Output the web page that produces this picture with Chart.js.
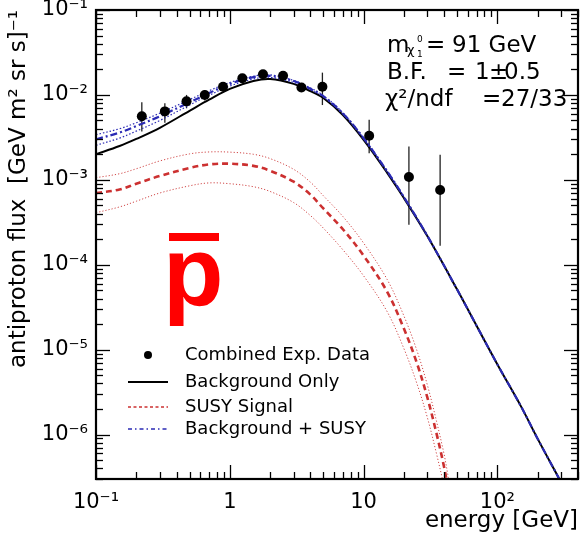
<!DOCTYPE html>
<html><head><meta charset="utf-8">
<script src="https://cdn.jsdelivr.net/npm/chart.js@4.4.1/dist/chart.umd.min.js"></script>
<style>html,body{margin:0;padding:0;background:#fff}#wrap{width:583px;height:535px;position:relative}</style>
</head><body><div id="wrap"><canvas id="c" width="583" height="535"></canvas></div>
<script>
// ---- data ----
const dataE    = [0.22, 0.327, 0.475, 0.65, 0.89, 1.24, 1.77, 2.5, 3.43, 4.92, 11.0, 21.8, 37.3];
const dataFlux = [5.6e-3, 6.4e-3, 8.4e-3, 1.0e-2, 1.25e-2, 1.57e-2, 1.75e-2, 1.68e-2, 1.22e-2, 1.25e-2, 3.3e-3, 1.08e-3, 7.6e-4];
const dataHi   = [8.2e-3, 8.0e-3, 1.0e-2, 1.14e-2, 1.32e-2, 1.64e-2, 1.82e-2, 1.75e-2, 1.28e-2, 1.83e-2, 5.1e-3, 2.47e-3, 1.97e-3];
const dataLo   = [3.7e-3, 4.7e-3, 6.96e-3, 8.6e-3, 1.18e-2, 1.5e-2, 1.68e-2, 1.61e-2, 1.16e-2, 7.6e-3, 2.06e-3, 2.96e-4, 1.67e-4];

const bgE    = [0.1, 0.15, 0.2, 0.3, 0.5, 0.7, 1, 1.5, 2, 3, 4, 5, 7, 10, 15, 20, 30, 50, 70, 100, 150, 200, 290];
const bgFlux = [2.0e-3, 2.5e-3, 3.03e-3, 4.1e-3, 6.5e-3, 8.8e-3, 1.18e-2, 1.46e-2, 1.54e-2, 1.35e-2, 1.11e-2, 9.2e-3, 5.8e-3, 2.96e-3, 1.21e-3, 6.1e-4, 2.16e-4, 5.1e-5, 1.9e-5, 6.7e-6, 2.15e-6, 8.9e-7, 3.0e-7];

const totFlux = [3.0e-3, 3.6e-3, 4.3e-3, 5.6e-3, 8.2e-3, 1.05e-2, 1.35e-2, 1.62e-2, 1.68e-2, 1.46e-2, 1.18e-2, 9.66e-3, 6.06e-3, 3.09e-3, 1.258e-3, 6.28e-4, 2.18e-4, 5.1e-5, 1.9e-5, 6.7e-6, 2.15e-6, 8.9e-7, 3.0e-7];
const bandE   = [0.1, 0.15, 0.2, 0.3, 0.5, 0.7, 1, 1.5, 2, 3, 4, 5, 7, 10, 15, 20, 30];
const totHi   = [3.4e-3, 4.0e-3, 4.7e-3, 6.1e-3, 8.8e-3, 1.12e-2, 1.40e-2, 1.66e-2, 1.72e-2, 1.48e-2, 1.21e-2, 9.85e-3, 6.17e-3, 3.14e-3, 1.277e-3, 6.35e-4, 2.19e-4];
const totLo   = [2.55e-3, 3.1e-3, 3.75e-3, 5.0e-3, 7.6e-3, 9.9e-3, 1.27e-2, 1.54e-2, 1.61e-2, 1.40e-2, 1.15e-2, 9.47e-3, 5.95e-3, 3.03e-3, 1.238e-3, 6.2e-4, 2.17e-4];

const sigE    = [0.1, 0.15, 0.2, 0.3, 0.5, 0.7, 1, 1.5, 2, 3, 4, 5, 7, 10, 15, 20, 25, 30, 35, 40, 43];
const sigFlux = [7.0e-4, 7.7e-4, 9.0e-4, 1.11e-3, 1.38e-3, 1.52e-3, 1.55e-3, 1.46e-3, 1.28e-3, 9.5e-4, 6.7e-4, 4.6e-4, 2.62e-4, 1.28e-4, 4.8e-5, 1.77e-5, 6.97e-6, 2.7e-6, 1.04e-6, 4.1e-7, 2.2e-7];
const sigHi   = [1.06e-3, 1.18e-3, 1.35e-3, 1.67e-3, 2.02e-3, 2.13e-3, 2.12e-3, 2.0e-3, 1.78e-3, 1.33e-3, 9.4e-4, 6.5e-4, 3.7e-4, 1.8e-4, 6.7e-5, 2.5e-5, 9.8e-6, 3.8e-6, 1.45e-6, 5.8e-7, 3.1e-7];
const sigLo   = [4.1e-4, 4.8e-4, 5.6e-4, 7.0e-4, 8.5e-4, 9.2e-4, 9.0e-4, 8.3e-4, 7.3e-4, 5.4e-4, 3.8e-4, 2.7e-4, 1.5e-4, 7.4e-5, 2.8e-5, 1.03e-5, 4.0e-6, 1.57e-6, 6.0e-7, 2.4e-7, 1.3e-7];

const xTickValues = [0.1, 1, 10, 100];
const xTickLabels = ['10\u207B\u00B9', '1', '10', '10\u00B2'];
const yTickValues = [1e-6, 1e-5, 1e-4, 1e-3, 1e-2, 1e-1];
const yTickLabels = ['10\u207B\u2076', '10\u207B\u2075', '10\u207B\u2074', '10\u207B\u00B3', '10\u207B\u00B2', '10\u207B\u00B9'];

const legendLabels = ['Combined Exp. Data', 'Background Only', 'SUSY Signal', 'Background + SUSY'];

const FONT = '"DejaVu Sans", "Open Sans", sans-serif';
const RED = '#cc3030', BLUE = '#2a2ab4';

const pts = (xs, ys) => xs.map((x, i) => ({x, y: ys[i]}));

const errorBars = {
  id: 'errorBars',
  beforeDatasetsDraw(chart) {
    const {ctx, scales: {x, y}, chartArea: a} = chart;
    ctx.save();
    ctx.beginPath(); ctx.rect(a.left, a.top, a.right - a.left, a.bottom - a.top); ctx.clip();
    ctx.strokeStyle = '#222'; ctx.lineWidth = 1.3;
    dataE.forEach((e, i) => {
      const px = x.getPixelForValue(e);
      ctx.beginPath();
      ctx.moveTo(px, y.getPixelForValue(dataHi[i]));
      ctx.lineTo(px, y.getPixelForValue(dataLo[i]));
      ctx.stroke();
    });
    ctx.restore();
  }
};

const frameTicks = {
  id: 'frameTicks',
  afterDraw(chart) {
    const {ctx, chartArea: {left, right, top, bottom}, scales: {x, y}} = chart;
    ctx.save();
    ctx.strokeStyle = '#000'; ctx.lineWidth = 1.3;
    const seg = (x1, y1, x2, y2) => { ctx.beginPath(); ctx.moveTo(x1, y1); ctx.lineTo(x2, y2); ctx.stroke(); };
    for (let d = -1; d <= 2; d++) for (let m = 1; m <= 9; m++) {
      const v = m * Math.pow(10, d);
      if (v < x.min || v > x.max) continue;
      const px = Math.round(x.getPixelForValue(v)) + 0.5;
      const len = m === 1 ? 14 : 7;
      seg(px, bottom, px, bottom - len); seg(px, top, px, top + len);
    }
    for (let d = -7; d <= -1; d++) for (let m = 1; m <= 9; m++) {
      const v = m * Math.pow(10, d);
      if (v < y.min * 0.999 || v > y.max * 1.001) continue;
      const py = Math.round(y.getPixelForValue(v)) + 0.5;
      const len = m === 1 ? 14 : 7;
      seg(left, py, left + len, py); seg(right, py, right - len, py);
    }
    ctx.lineWidth = 2.2;
    ctx.strokeRect(left, top, right - left, bottom - top);
    ctx.restore();
  }
};

const decorations = {
  id: 'decorations',
  afterDraw(chart) {
    const {ctx} = chart;
    ctx.save();
    // big anti-proton symbol
    ctx.fillStyle = '#ff0000';
    ctx.font = 'bold 99px "Liberation Sans", Arial, sans-serif';
    ctx.textBaseline = 'alphabetic'; ctx.textAlign = 'left';
    ctx.fillText('p', 163, 306);
    ctx.fillRect(169, 233, 50, 8);

    // annotation
    ctx.fillStyle = '#000';
    ctx.font = '23px ' + FONT;
    ctx.fillText('m', 387, 52);
    ctx.font = '13px ' + FONT;
    ctx.fillText('\u03C7', 407, 54);
    ctx.font = '9px ' + FONT;
    ctx.fillText('0', 417, 42);
    ctx.fillText('1', 417, 57);
    ctx.font = '23px ' + FONT;
    ctx.fillText('=', 426, 52);
    ctx.fillText('91 GeV', 452, 52);
    ctx.fillText('B.F.', 387, 79);
    ctx.fillText('=', 447, 79);
    ctx.fillText('1', 475, 79);
    ctx.fillText('\u00B1', 489, 79);
    ctx.fillText('0.5', 504, 79);
    ctx.fillText('\u03C7\u00B2/ndf', 385, 106);
    ctx.fillText('=', 482, 106);
    ctx.fillText('27/33', 501, 106);

    // legend
    const lx1 = 128, lx2 = 168, tx = 185;
    const rows = [355, 382, 407, 429];
    ctx.font = '18px ' + FONT;
    ctx.textBaseline = 'middle';
    legendLabels.forEach((t, i) => ctx.fillText(t, tx, rows[i]));
    ctx.beginPath(); ctx.arc(148, rows[0], 4, 0, Math.PI * 2); ctx.fill();
    const lineSample = (yy, color, w, dash) => {
      ctx.strokeStyle = color; ctx.lineWidth = w; ctx.setLineDash(dash);
      ctx.beginPath(); ctx.moveTo(lx1, yy); ctx.lineTo(lx2, yy); ctx.stroke();
    };
    lineSample(rows[1], '#000', 2, []);
    lineSample(rows[2], RED, 1.6, [3, 2.5]);
    lineSample(rows[3], BLUE, 1.6, [4, 3, 1.5, 3]);
    ctx.restore();
  }
};

const lineDS = (label, xs, ys, color, width, dash) => ({
  label, data: pts(xs, ys), borderColor: color, borderWidth: width, borderDash: dash,
  pointRadius: 0, fill: false, tension: 0.35
});

new Chart(document.getElementById('c'), {
  type: 'line',
  data: {
    datasets: [
      {label: legendLabels[0], type: 'scatter', data: pts(dataE, dataFlux), pointRadius: 5,
       pointBackgroundColor: '#000', pointBorderColor: '#000', pointBorderWidth: 0, showLine: false},
      lineDS(legendLabels[3], bgE, totFlux, BLUE, 2.2, [7, 3, 2, 3]),
      lineDS('B+S upper', bandE, totHi, BLUE, 1.2, [1.5, 2]),
      lineDS('B+S lower', bandE, totLo, BLUE, 1.2, [1.5, 2]),
      lineDS(legendLabels[1], bgE, bgFlux, '#000', 2, []),
      lineDS(legendLabels[2], sigE, sigFlux, RED, 2.6, [6, 4]),
      lineDS('Signal upper', sigE, sigHi, '#d04848', 1, [1.2, 2]),
      lineDS('Signal lower', sigE, sigLo, '#d04848', 1, [1.2, 2])
    ]
  },
  options: {
    responsive: false, animation: false, devicePixelRatio: 1,
    layout: {padding: {top: 10, right: 5, left: 0, bottom: 0}},
    plugins: {legend: {display: false}, tooltip: {enabled: false}},
    scales: {
      x: {
        type: 'logarithmic', min: 0.1, max: 400,
        grid: {display: false, drawTicks: false}, border: {display: false},
        afterBuildTicks(s) { s.ticks = xTickValues.map(v => ({value: v})); },
        ticks: {callback: (v, i) => xTickLabels[i], font: {family: FONT, size: 21}, color: '#000',
                maxRotation: 0, autoSkip: false, padding: 11},
        title: {display: true, text: 'energy [GeV]', align: 'end', color: '#000',
                font: {family: FONT, size: 23}, padding: {top: 0, bottom: 0}},
        afterFit(s) { s.height = 56; s.paddingLeft = 0; s.paddingRight = 0; }
      },
      y: {
        type: 'logarithmic', min: 3e-7, max: 0.1,
        grid: {display: false, drawTicks: false}, border: {display: false},
        afterBuildTicks(s) { s.ticks = yTickValues.map(v => ({value: v})); },
        ticks: {callback: (v, i) => yTickLabels[i], font: {family: FONT, size: 21}, color: '#000',
                autoSkip: false, padding: 8},
        title: {display: true, text: 'antiproton flux  [GeV m\u00B2 sr s]\u207B\u00B9', align: 'end', color: '#000',
                font: {family: FONT, size: 23}, padding: {top: 5, bottom: 0}},
        afterFit(s) { s.width = 96; s.paddingTop = 0; s.paddingBottom = 0; }
      }
    }
  },
  plugins: [errorBars, frameTicks, decorations]
});
</script>
</body></html>
